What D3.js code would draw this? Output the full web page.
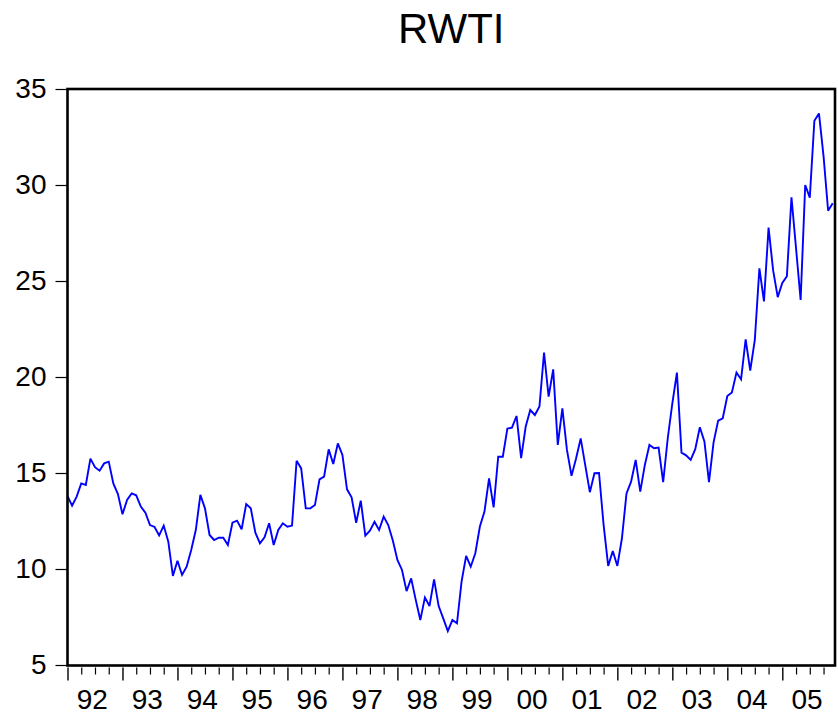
<!DOCTYPE html>
<html>
<head>
<meta charset="utf-8">
<script src="https://cdn.jsdelivr.net/npm/d3@7/dist/d3.min.js"></script>
<style>
  html, body { margin: 0; padding: 0; background: #ffffff; }
  svg { display: block; font-family: "Liberation Sans", Arial, sans-serif; }
</style>
</head>
<body>
<svg id="chart" width="838" height="717"></svg>
<script>
// Monthly series RWTI, 1992:01 - 2005:12
const startYear = 1992;
const yearLabels = ["92","93","94","95","96","97","98","99","00","01","02","03","04","05"];
const yTicks = [5, 10, 15, 20, 25, 30, 35];
const rwti = [
  13.8, 13.3, 13.77, 14.46, 14.38, 15.75, 15.3, 15.12, 15.5, 15.59, 14.46, 13.9,
  12.85, 13.6, 13.94, 13.84, 13.25, 12.93, 12.29, 12.19, 11.75, 12.26, 11.42, 9.64,
  10.43, 9.69, 10.12, 10.99, 12.03, 13.86, 13.16, 11.77, 11.51, 11.63, 11.63, 11.25,
  12.41, 12.52, 12.07, 13.38, 13.16, 11.89, 11.34, 11.65, 12.38, 11.25, 12.03, 12.38,
  12.2, 12.26, 15.64, 15.24, 13.16, 13.16, 13.33, 14.67, 14.81, 16.23, 15.47, 16.54,
  15.94, 14.15, 13.73, 12.41, 13.56, 11.74, 12.0, 12.46, 12.03, 12.73, 12.29, 11.48,
  10.47, 9.95, 8.85, 9.51, 8.39, 7.34, 8.52, 8.07, 9.46, 8.07, 7.43, 6.77,
  7.34, 7.17, 9.34, 10.68, 10.12, 10.82, 12.21, 12.99, 14.72, 13.21, 15.85, 15.85,
  17.31, 17.36, 17.97, 15.77, 17.42, 18.28, 18.02, 18.46, 21.27, 18.98, 20.4, 16.46,
  18.37, 16.2, 14.85, 15.77, 16.8, 15.4, 14.0, 14.99, 15.0, 12.3, 10.16, 10.94,
  10.16, 11.6, 13.94, 14.55, 15.68, 14.03, 15.42, 16.46, 16.29, 16.32, 14.52, 16.81,
  18.63, 20.23, 16.06, 15.92, 15.68, 16.24, 17.38, 16.64, 14.52, 16.6, 17.73, 17.85,
  19.01, 19.19, 20.23, 19.88, 21.96, 20.33, 21.93, 25.66, 23.94, 27.78, 25.55, 24.16,
  24.9, 25.25, 29.36, 26.7, 24.01, 30.0, 29.34, 33.35, 33.73, 31.5, 28.66, 29.05
];

(function () {
const svg = d3.select("#chart");
const pLeft = 67.5, pRight = 835, pTop = 89, pBottom = 665.5;

const x = d3.scaleLinear().domain([0, 167.5]).range([pLeft, pRight]);
const y = d3.scaleLinear().domain([5, 35]).range([665, 89]);

// Title
svg.append("text")
  .attr("x", (pLeft + pRight) / 2)
  .attr("y", 43)
  .attr("text-anchor", "middle")
  .attr("font-size", 42)
  .attr("fill", "#000")
  .text("RWTI");

// Y axis ticks and labels
const yAxis = d3.axisLeft(y).tickValues(yTicks).tickSize(12).tickPadding(9).tickFormat(d3.format("d"));
const gy = svg.append("g").attr("transform", `translate(${pLeft},0)`).call(yAxis);
gy.select(".domain").remove();
gy.selectAll(".tick line").attr("stroke", "#000").attr("stroke-width", 1.2);
gy.selectAll(".tick text").attr("font-size", 28).attr("fill", "#000")
  .attr("font-family", "'Liberation Sans', Arial, sans-serif");

// X axis: quarterly minor ticks, yearly major ticks
const nYears = yearLabels.length;
const quarterTicks = d3.range(0, nYears * 12, 3).filter(q => q % 12 !== 0);
const yearTicks = d3.range(0, nYears * 12, 12);

const gxMinor = svg.append("g").attr("transform", `translate(0,${pBottom + 2})`)
  .call(d3.axisBottom(x).tickValues(quarterTicks).tickSize(7).tickFormat(""));
gxMinor.select(".domain").remove();
gxMinor.selectAll(".tick line").attr("stroke", "#000").attr("stroke-width", 1.2);

const gxMajor = svg.append("g").attr("transform", `translate(0,${pBottom + 2})`)
  .call(d3.axisBottom(x).tickValues(yearTicks).tickSize(13).tickFormat(""));
gxMajor.select(".domain").remove();
gxMajor.selectAll(".tick line").attr("stroke", "#000").attr("stroke-width", 1.4);

// Year labels centred in each year
svg.append("g").selectAll("text")
  .data(yearLabels)
  .join("text")
  .attr("x", (d, i) => x(i * 12 + 5.4))
  .attr("y", 709)
  .attr("text-anchor", "middle")
  .attr("font-size", 28)
  .attr("fill", "#000")
  .text(d => d);

// Line
const line = d3.line().x((d, i) => x(i)).y(d => y(d));
svg.append("path")
  .datum(rwti)
  .attr("d", line)
  .attr("fill", "none")
  .attr("stroke", "#0000ff")
  .attr("stroke-width", 1.9)
  .attr("stroke-linejoin", "miter")
  .attr("stroke-miterlimit", 3);

// Frame
svg.append("rect")
  .attr("x", pLeft)
  .attr("y", pTop)
  .attr("width", pRight - pLeft)
  .attr("height", pBottom - pTop)
  .attr("fill", "none")
  .attr("stroke", "#000")
  .attr("stroke-width", 2.6);
})();
</script>
</body>
</html>
